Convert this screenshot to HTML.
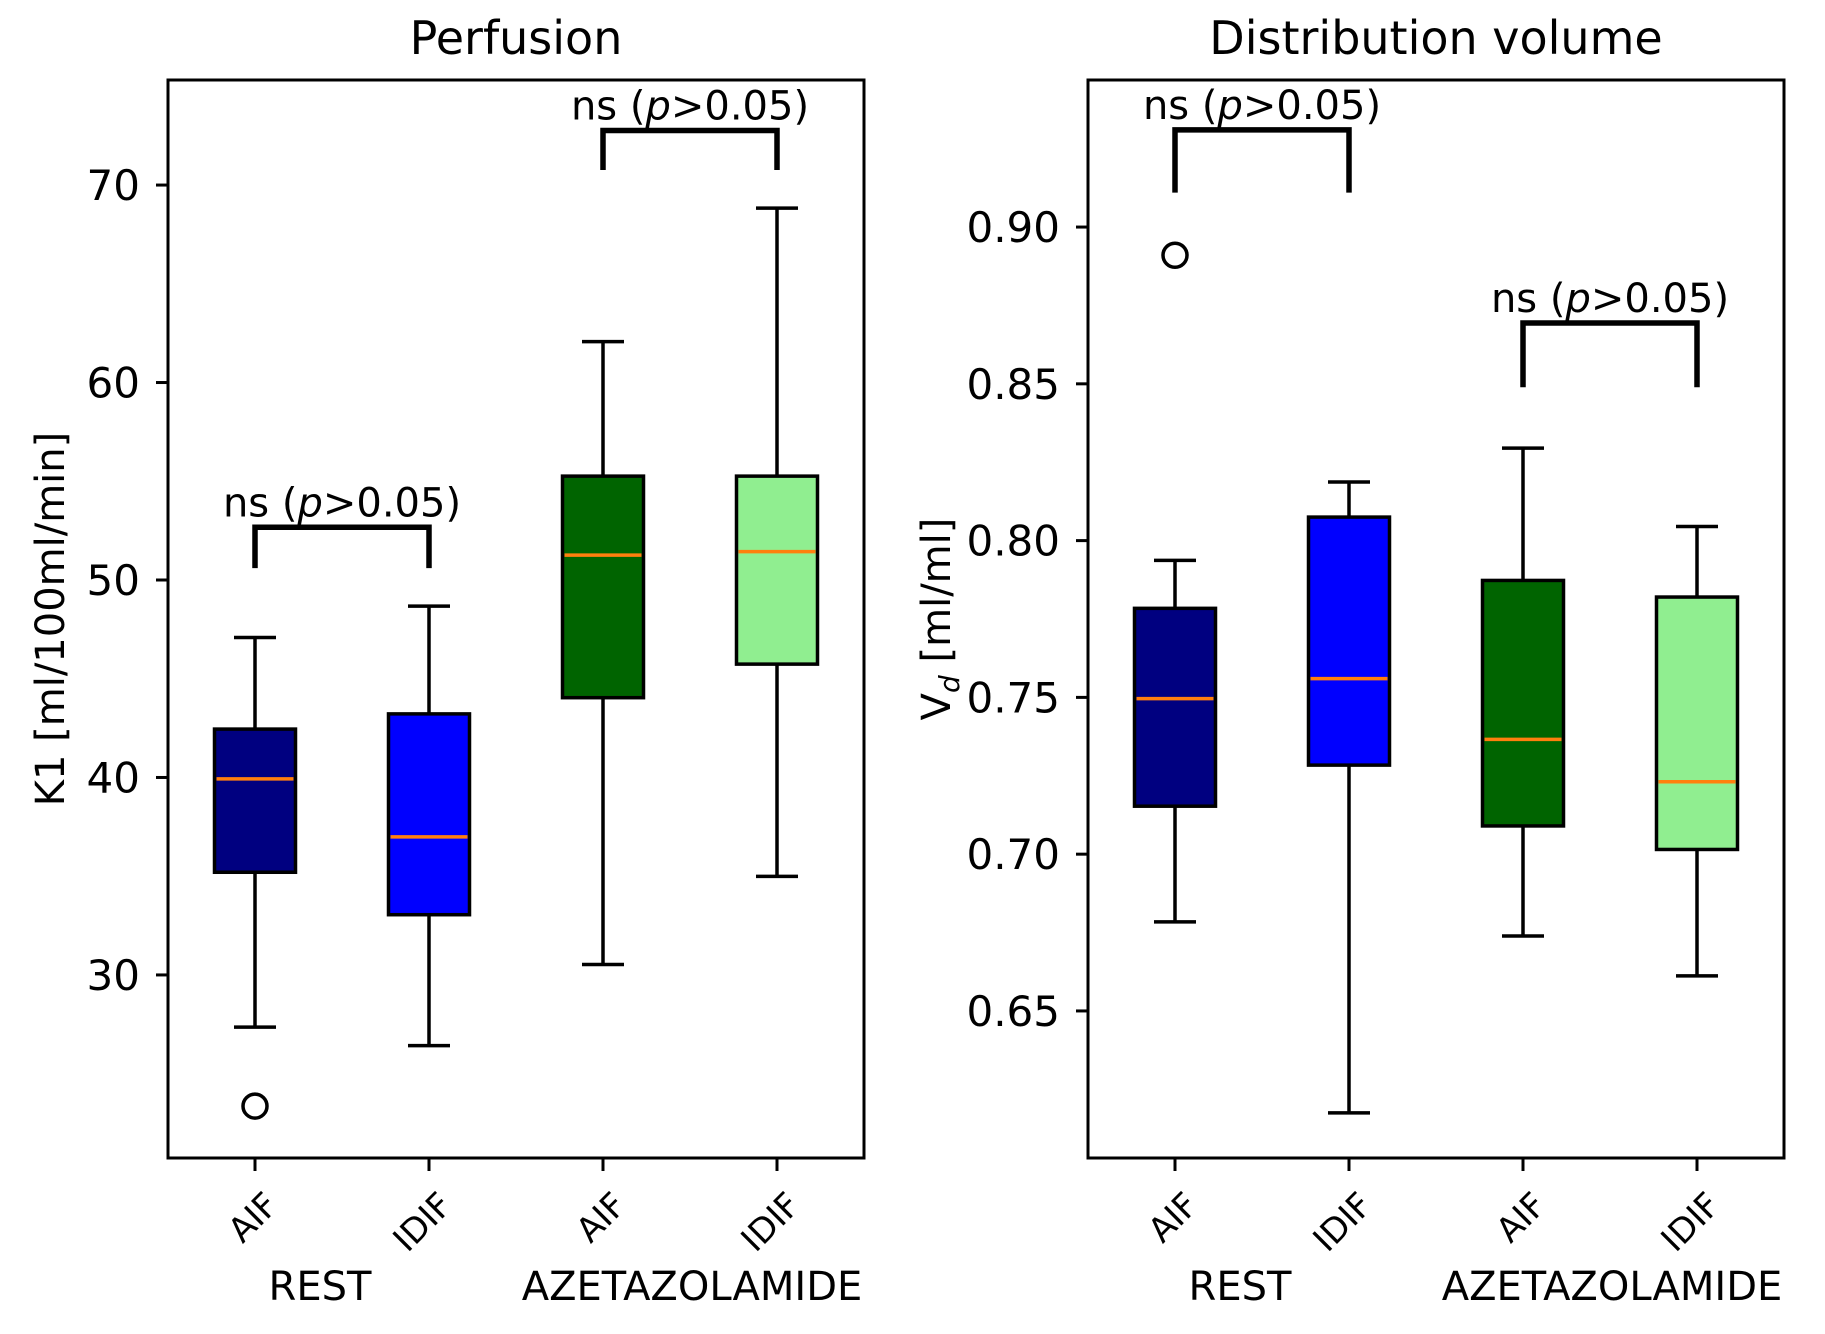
<!DOCTYPE html>
<html><head><meta charset="utf-8"><style>
html,body{margin:0;padding:0;background:#fff}
svg{display:block}
text{font-family:"DejaVu Sans","Liberation Sans",sans-serif;fill:#000}
</style></head><body>
<svg id="fig" width="1825" height="1334" viewBox="0 0 1825 1334"></svg>
<script>
const categories = ["AIF","IDIF","AIF","IDIF"];
const groups = ["REST","AZETAZOLAMIDE"];
const colors = ["#000080","#0000ff","#006400","#90ee90"];
// Perfusion: [low whisker, Q1, median, Q3, high whisker]
const k1Low = [27.36,26.42,30.53,34.99];
const k1Q1 = [35.2,33.05,44.04,45.74];
const k1Med = [39.93,36.99,51.26,51.44];
const k1Q3 = [42.45,43.22,55.26,55.26];
const k1High = [47.09,48.68,62.07,68.83];
const k1Outliers = [[0,23.36]];
const k1Ticks = [30,40,50,60,70];
const k1TickLabels = ["30","40","50","60","70"];
const k1Brackets = [[0,1,52.67,50.6],[2,3,72.76,70.76]];
// Distribution volume
const vdLow = [0.6784,0.6175,0.6739,0.6612];
const vdQ1 = [0.7153,0.7284,0.709,0.7015];
const vdMed = [0.7496,0.756,0.7366,0.7231];
const vdQ3 = [0.7784,0.8075,0.7873,0.782];
const vdHigh = [0.7937,0.8187,0.8295,0.8045];
const vdOutliers = [[0,0.891]];
const vdTicks = [0.65,0.70,0.75,0.80,0.85,0.90];
const vdTickLabels = ["0.65","0.70","0.75","0.80","0.85","0.90"];
const vdBrackets = [[0,1,0.931,0.911],[2,3,0.8694,0.8489]];

const NS="http://www.w3.org/2000/svg";
const svg=document.getElementById('fig');
function mk(tag,attrs,parent,txt){const e=document.createElementNS(NS,tag);for(const k in attrs)e.setAttribute(k,attrs[k]);if(txt!==undefined)e.textContent=txt;(parent||svg).appendChild(e);return e;}

function panel(o){
  const g=mk('g',{});
  
  
  const L=o.left,R=o.right,T=80,B=1158;
  const xs=i=>L+(i+0.5)*(R-L)/4;
  const ys=v=>T+(o.ymax-v)/(o.ymax-o.ymin)*(B-T);
  const bw=81,cw=42,sw=3.5;
  const t=mk('text',{x:(L+R)/2,y:54,'font-size':46,'text-anchor':'middle'},g,o.title);
  
  
  o.ticks.forEach((v,i)=>{
    const y=ys(v);
    const tk=mk('line',{x1:L-12,x2:L,y1:y,y2:y,stroke:'#000','stroke-width':3},g);
    
    
    const tl=mk('text',{x:L-28,y:y+15,'font-size':42,'text-anchor':'end'},g,o.tickLabels[i]);
    
    
  });
  const yl=mk('text',{transform:`translate(${o.ylx},${(T+B)/2}) rotate(-90)`,'font-size':40,'text-anchor':'middle'},g);
  
  
  if(o.vd){mk('tspan',{},yl,'V');mk('tspan',{'font-size':28,'font-style':'italic',dy:9},yl,'d');mk('tspan',{dy:-9},yl,' [ml/ml]');}
  else yl.textContent='K1 [ml/100ml/min]';
  for(let i=0;i<4;i++){
    const x=xs(i);
    const bg=mk('g',{},g);
    
    
    mk('line',{x1:x,x2:x,y1:ys(o.low[i]),y2:ys(o.q1[i]),stroke:'#000','stroke-width':sw},bg);
    mk('line',{x1:x,x2:x,y1:ys(o.q3[i]),y2:ys(o.high[i]),stroke:'#000','stroke-width':sw},bg);
    mk('line',{x1:x-cw/2,x2:x+cw/2,y1:ys(o.low[i]),y2:ys(o.low[i]),stroke:'#000','stroke-width':sw},bg);
    mk('line',{x1:x-cw/2,x2:x+cw/2,y1:ys(o.high[i]),y2:ys(o.high[i]),stroke:'#000','stroke-width':sw},bg);
    mk('rect',{x:x-bw/2,y:ys(o.q3[i]),width:bw,height:ys(o.q1[i])-ys(o.q3[i]),fill:colors[i],stroke:'#000','stroke-width':sw},bg);
    mk('line',{x1:x-bw/2+2,x2:x+bw/2-2,y1:ys(o.med[i]),y2:ys(o.med[i]),stroke:'#ff7f0e','stroke-width':3.5},bg);
    mk('line',{x1:x,x2:x,y1:B,y2:B+13,stroke:'#000','stroke-width':3},g);
    const xl=mk('text',{transform:`translate(${x+25},${B+49}) rotate(-45)`,'font-size':34,'text-anchor':'end'},g,categories[i]);
    
    
  }
  o.outliers.forEach(p=>{
    const c=mk('circle',{cx:xs(p[0]),cy:ys(p[1]),r:12,fill:'none',stroke:'#000','stroke-width':3.5},g);
    
    
  });
  o.brackets.forEach(b=>{
    const x1=xs(b[0]),x2=xs(b[1]),yt=ys(b[2]),yb=ys(b[3]);
    const p=mk('path',{d:`M${x1},${yb} L${x1},${yt} L${x2},${yt} L${x2},${yb}`,fill:'none',stroke:'#000','stroke-width':5.5},g);
    
    
    const tx=mk('text',{x:(x1+x2)/2,y:yt-11,'font-size':40,'text-anchor':'middle'},g);
    
    
    mk('tspan',{},tx,'ns (');mk('tspan',{'font-style':'italic'},tx,'p');mk('tspan',{},tx,'>0.05)');
  });
  [0,1].forEach(k=>{
    const gl=mk('text',{x:(xs(2*k)+xs(2*k+1))/2+(k?2:-22),y:1300,'font-size':40,'text-anchor':'middle'},g,groups[k]);
    
    
  });
  const fr=mk('rect',{x:L,y:T,width:R-L,height:B-T,fill:'none',stroke:'#000','stroke-width':3},g);
  
  
}
panel({name:'perfusion-panel',title:'Perfusion',left:168,right:864,ymin:20.73,ymax:75.32,ticks:k1Ticks,tickLabels:k1TickLabels,
  low:k1Low,q1:k1Q1,med:k1Med,q3:k1Q3,high:k1High,outliers:k1Outliers,brackets:k1Brackets,ylx:64,vd:false});
panel({name:'distribution-volume-panel',title:'Distribution volume',left:1088,right:1784,ymin:0.6031,ymax:0.9469,ticks:vdTicks,tickLabels:vdTickLabels,
  low:vdLow,q1:vdQ1,med:vdMed,q3:vdQ3,high:vdHigh,outliers:vdOutliers,brackets:vdBrackets,ylx:950,vd:true});
</script>
</body></html>
